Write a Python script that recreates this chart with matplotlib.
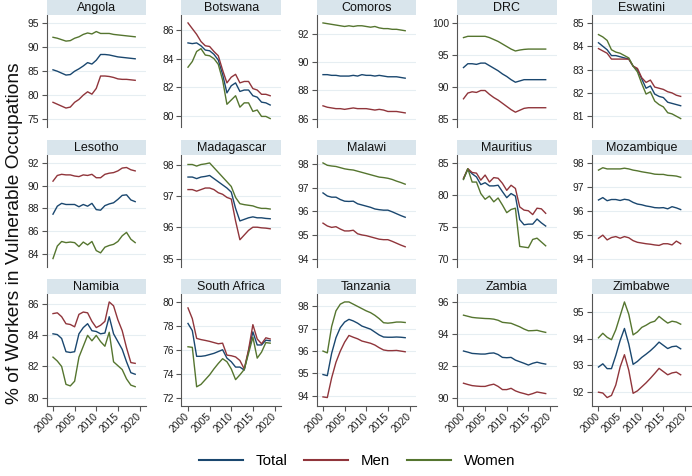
import matplotlib
matplotlib.use("Agg")
import matplotlib.pyplot as plt
from matplotlib.lines import Line2D

plt.rcParams['font.family'] = ['Liberation Sans', 'DejaVu Sans']

YEARS = list(range(2000, 2020))
COUNTRIES = ["Angola", "Botswana", "Comoros", "DRC", "Eswatini",
             "Lesotho", "Madagascar", "Malawi", "Mauritius", "Mozambique",
             "Namibia", "South Africa", "Tanzania", "Zambia", "Zimbabwe"]
SERIES = ["Total", "Men", "Women"]
X_TICKS = [2000, 2005, 2010, 2015, 2020]

ANGOLA_TOTAL = [85.2, 84.9, 84.5, 84.1, 84.2, 84.9, 85.4, 86.0, 86.7, 86.4, 87.2, 88.4, 88.4, 88.3, 88.1, 87.9, 87.8, 87.7, 87.6, 87.5]
ANGOLA_MEN = [78.4, 78.0, 77.6, 77.2, 77.4, 78.4, 79.0, 79.9, 80.6, 80.1, 81.3, 83.9, 83.9, 83.8, 83.6, 83.3, 83.2, 83.2, 83.1, 83.0]
ANGOLA_WOMEN = [92.0, 91.8, 91.5, 91.2, 91.3, 91.8, 92.1, 92.6, 92.9, 92.7, 93.2, 92.8, 92.8, 92.8, 92.6, 92.5, 92.4, 92.3, 92.2, 92.1]

BOTSWANA_TOTAL = [85.1, 85.05, 85.1, 84.9, 84.6, 84.55, 84.3, 83.9, 82.9, 81.6, 82.1, 82.3, 81.7, 81.8, 81.8, 81.4, 81.3, 80.95, 80.9, 80.75]
BOTSWANA_MEN = [86.5, 86.1, 85.7, 85.2, 84.9, 84.85, 84.5, 84.2, 83.2, 82.3, 82.7, 82.9, 82.3, 82.4, 82.4, 81.9, 81.8, 81.5, 81.5, 81.4]
BOTSWANA_WOMEN = [83.4, 83.8, 84.5, 84.7, 84.25, 84.2, 84.0, 83.6, 82.5, 80.8, 81.1, 81.4, 80.6, 80.9, 80.9, 80.3, 80.4, 79.95, 79.95, 79.8]

COMOROS_TOTAL = [89.1, 89.1, 89.05, 89.05, 89.0, 89.0, 89.0, 89.05, 89.0, 89.1, 89.05, 89.05, 89.0, 89.05, 89.0, 88.95, 88.95, 88.95, 88.9, 88.85]
COMOROS_MEN = [86.9, 86.8, 86.75, 86.7, 86.7, 86.65, 86.7, 86.75, 86.7, 86.7, 86.7, 86.65, 86.6, 86.65, 86.6, 86.5, 86.5, 86.5, 86.45, 86.4]
COMOROS_WOMEN = [92.75, 92.7, 92.65, 92.6, 92.55, 92.5, 92.55, 92.5, 92.55, 92.55, 92.5, 92.45, 92.5, 92.4, 92.35, 92.35, 92.3, 92.3, 92.25, 92.2]

DRC_TOTAL = [93.0, 93.6, 93.6, 93.5, 93.7, 93.7, 93.3, 92.9, 92.5, 92.0, 91.6, 91.1, 90.7, 90.9, 91.1, 91.1, 91.1, 91.1, 91.1, 91.1]
DRC_MEN = [88.1, 89.0, 89.2, 89.1, 89.4, 89.4, 88.8, 88.3, 87.9, 87.4, 86.9, 86.4, 86.0, 86.3, 86.6, 86.7, 86.7, 86.7, 86.7, 86.7]
DRC_WOMEN = [97.7, 97.9, 97.9, 97.9, 97.9, 97.9, 97.7, 97.4, 97.1, 96.7, 96.3, 95.9, 95.6, 95.75, 95.85, 95.9, 95.9, 95.9, 95.9, 95.9]

ESWATINI_TOTAL = [84.15, 84.0, 83.85, 83.6, 83.6, 83.55, 83.5, 83.45, 83.15, 83.0, 82.6, 82.2, 82.3, 81.95, 81.85, 81.8, 81.6, 81.55, 81.5, 81.45]
ESWATINI_MEN = [83.9, 83.8, 83.7, 83.45, 83.45, 83.45, 83.45, 83.45, 83.15, 83.05, 82.65, 82.45, 82.55, 82.25, 82.2, 82.15, 82.05, 82.0, 81.9, 81.85]
ESWATINI_WOMEN = [84.5, 84.4, 84.25, 83.85, 83.75, 83.7, 83.6, 83.5, 83.15, 82.9, 82.4, 81.95, 82.05, 81.65, 81.5, 81.4, 81.15, 81.1, 81.0, 80.9]

LESOTHO_TOTAL = [87.5, 88.2, 88.45, 88.35, 88.35, 88.35, 88.15, 88.35, 88.2, 88.45, 87.9, 87.85, 88.25, 88.4, 88.5, 88.8, 89.15, 89.2, 88.75, 88.6]
LESOTHO_MEN = [90.4, 90.9, 91.0, 90.95, 90.95, 90.85, 90.8, 90.95, 90.9, 91.0, 90.7, 90.7, 91.0, 91.1, 91.15, 91.3, 91.55, 91.6, 91.4, 91.3]
LESOTHO_WOMEN = [83.6, 84.7, 85.1, 85.0, 85.05, 85.0, 84.65, 85.05, 84.8, 85.1, 84.3, 84.1, 84.6, 84.75, 84.85, 85.1, 85.6, 85.9, 85.3, 85.0]

MADAGASCAR_TOTAL = [97.6, 97.6, 97.55, 97.6, 97.62, 97.65, 97.55, 97.45, 97.35, 97.25, 97.12, 96.6, 96.2, 96.25, 96.3, 96.33, 96.3, 96.3, 96.28, 96.27]
MADAGASCAR_MEN = [97.2, 97.2, 97.15, 97.2, 97.25, 97.25, 97.2, 97.1, 97.05, 96.95, 96.9, 96.2, 95.6, 95.75, 95.9, 96.0, 96.0, 95.98, 95.97, 95.95]
MADAGASCAR_WOMEN = [98.0, 98.0, 97.95, 98.0, 98.02, 98.05, 97.9, 97.75, 97.6, 97.45, 97.3, 96.95, 96.75, 96.72, 96.7, 96.68, 96.63, 96.6, 96.6, 96.58]

MALAWI_TOTAL = [96.78, 96.65, 96.6, 96.6, 96.5, 96.43, 96.42, 96.43, 96.32, 96.27, 96.22, 96.17, 96.1, 96.07, 96.05, 96.05, 95.98, 95.9, 95.82, 95.75]
MALAWI_MEN = [95.5, 95.38, 95.32, 95.35, 95.25, 95.17, 95.17, 95.2, 95.05, 95.0, 94.97, 94.92, 94.87, 94.82, 94.8, 94.8, 94.73, 94.65, 94.57, 94.5]
MALAWI_WOMEN = [98.05, 97.95, 97.92, 97.9, 97.85, 97.8, 97.77, 97.75, 97.7, 97.65, 97.6, 97.55, 97.5, 97.45, 97.43, 97.4, 97.35, 97.28, 97.22, 97.15]

MAURITIUS_TOTAL = [82.5, 84.0, 83.3, 82.8, 81.6, 81.9, 81.4, 81.4, 81.5, 80.5, 79.55, 80.2, 79.8, 76.1, 75.3, 75.4, 75.4, 76.2, 75.6, 75.1]
MAURITIUS_MEN = [82.6, 84.1, 83.5, 83.4, 82.3, 83.1, 82.0, 82.7, 82.6, 81.8, 80.7, 81.5, 81.0, 78.1, 77.6, 77.5, 76.9, 77.9, 77.8, 77.1]
MAURITIUS_WOMEN = [82.4, 84.1, 82.0, 82.0, 80.2, 79.3, 79.8, 78.9, 79.5, 78.4, 77.2, 77.7, 77.9, 71.9, 71.8, 71.7, 73.0, 73.2, 72.6, 72.0]

MOZAMBIQUE_TOTAL = [96.45, 96.55, 96.42, 96.47, 96.47, 96.43, 96.48, 96.45, 96.35, 96.28, 96.25, 96.2, 96.17, 96.13, 96.12, 96.13, 96.08, 96.17, 96.12, 96.05]
MOZAMBIQUE_MEN = [94.85, 94.98, 94.78, 94.88, 94.92, 94.85, 94.92, 94.87, 94.75, 94.68, 94.65, 94.62, 94.6, 94.57, 94.55, 94.62, 94.62, 94.57, 94.73, 94.62]
MOZAMBIQUE_WOMEN = [97.7, 97.8, 97.75, 97.75, 97.75, 97.75, 97.78, 97.75, 97.7, 97.67, 97.63, 97.6, 97.57, 97.53, 97.52, 97.52, 97.48, 97.47, 97.45, 97.4]

NAMIBIA_TOTAL = [84.1, 84.05, 83.8, 82.95, 82.9, 82.95, 84.1, 84.5, 84.75, 84.3, 84.25, 84.1, 84.15, 85.2, 84.1, 83.6, 83.1, 82.3, 81.6, 81.5]
NAMIBIA_MEN = [85.4, 85.45, 85.2, 84.75, 84.7, 84.55, 85.35, 85.5, 85.45, 84.9, 84.5, 84.65, 84.9, 86.15, 85.9, 85.0, 84.3, 83.2, 82.25, 82.2]
NAMIBIA_WOMEN = [82.6, 82.35, 82.0, 80.85, 80.75, 81.05, 82.6, 83.3, 84.0, 83.65, 84.0, 83.6, 83.3, 84.2, 82.3, 82.05, 81.8, 81.2, 80.8, 80.7]

SOUTH_AFRICA_TOTAL = [78.2, 77.6, 75.45, 75.45, 75.5, 75.6, 75.7, 75.85, 76.0, 75.3, 75.0, 74.55, 74.55, 74.3, 75.9, 77.5, 76.4, 76.4, 76.8, 76.75]
SOUTH_AFRICA_MEN = [79.5, 78.6, 76.95, 76.85, 76.78, 76.7, 76.6, 76.5, 76.55, 75.55, 75.5, 75.4, 75.1, 74.4, 76.0, 78.1, 76.9, 76.5, 77.0, 76.9]
SOUTH_AFRICA_WOMEN = [76.25, 76.2, 72.9, 73.1, 73.5, 73.9, 74.4, 74.85, 75.25, 75.0, 74.4, 73.5, 73.9, 74.35, 75.7, 77.05, 75.3, 75.8, 76.6, 76.55]

TANZANIA_TOTAL = [94.95, 94.9, 95.9, 96.6, 97.05, 97.3, 97.42, 97.35, 97.25, 97.12, 97.05, 96.98, 96.85, 96.72, 96.63, 96.62, 96.62, 96.63, 96.62, 96.6]
TANZANIA_MEN = [93.95, 93.92, 94.8, 95.5, 96.0, 96.4, 96.7, 96.62, 96.55, 96.45, 96.4, 96.35, 96.27, 96.15, 96.05, 96.02, 96.02, 96.03, 96.0, 95.97]
TANZANIA_WOMEN = [96.0, 95.92, 97.1, 97.8, 98.1, 98.2, 98.2, 98.1, 98.0, 97.9, 97.8, 97.72, 97.6, 97.45, 97.27, 97.25, 97.27, 97.3, 97.3, 97.28]

ZAMBIA_TOTAL = [92.92, 92.85, 92.77, 92.75, 92.73, 92.73, 92.78, 92.8, 92.7, 92.52, 92.5, 92.52, 92.35, 92.25, 92.15, 92.04, 92.15, 92.22, 92.15, 92.1]
ZAMBIA_MEN = [90.9, 90.82, 90.75, 90.72, 90.7, 90.7, 90.78, 90.84, 90.7, 90.5, 90.5, 90.58, 90.42, 90.32, 90.25, 90.17, 90.25, 90.35, 90.3, 90.25]
ZAMBIA_WOMEN = [95.17, 95.1, 95.03, 95.0, 94.98, 94.96, 94.95, 94.92, 94.85, 94.72, 94.69, 94.66, 94.55, 94.44, 94.3, 94.19, 94.2, 94.22, 94.15, 94.09]

ZIMBABWE_TOTAL = [92.94, 93.06, 92.88, 92.88, 93.37, 93.93, 94.38, 93.8, 93.04, 93.15, 93.3, 93.42, 93.55, 93.7, 93.87, 93.75, 93.63, 93.7, 93.72, 93.62]
ZIMBABWE_MEN = [92.0, 91.97, 91.8, 91.88, 92.27, 92.94, 93.4, 92.82, 91.96, 92.05, 92.2, 92.35, 92.52, 92.7, 92.89, 92.77, 92.65, 92.72, 92.75, 92.65]
ZIMBABWE_WOMEN = [94.03, 94.2, 94.05, 93.96, 94.33, 94.85, 95.37, 94.91, 94.14, 94.25, 94.42, 94.5, 94.6, 94.65, 94.83, 94.7, 94.58, 94.65, 94.62, 94.54]

Y_TICKS = {
    "Angola": [75, 80, 85, 90, 95],
    "Botswana": [80, 82, 84, 86],
    "Comoros": [86, 88, 90, 92],
    "DRC": [85, 90, 95, 100],
    "Eswatini": [81, 82, 83, 84, 85],
    "Lesotho": [84, 86, 88, 90, 92],
    "Madagascar": [95, 96, 97, 98],
    "Malawi": [94, 95, 96, 97, 98],
    "Mauritius": [70, 75, 80, 85],
    "Mozambique": [94, 95, 96, 97, 98],
    "Namibia": [80, 82, 84, 86],
    "South Africa": [72, 74, 76, 78, 80],
    "Tanzania": [94, 95, 96, 97, 98],
    "Zambia": [90, 92, 94, 96],
    "Zimbabwe": [92, 93, 94, 95],
}

DATA = {
    "Angola": (ANGOLA_TOTAL, ANGOLA_MEN, ANGOLA_WOMEN),
    "Botswana": (BOTSWANA_TOTAL, BOTSWANA_MEN, BOTSWANA_WOMEN),
    "Comoros": (COMOROS_TOTAL, COMOROS_MEN, COMOROS_WOMEN),
    "DRC": (DRC_TOTAL, DRC_MEN, DRC_WOMEN),
    "Eswatini": (ESWATINI_TOTAL, ESWATINI_MEN, ESWATINI_WOMEN),
    "Lesotho": (LESOTHO_TOTAL, LESOTHO_MEN, LESOTHO_WOMEN),
    "Madagascar": (MADAGASCAR_TOTAL, MADAGASCAR_MEN, MADAGASCAR_WOMEN),
    "Malawi": (MALAWI_TOTAL, MALAWI_MEN, MALAWI_WOMEN),
    "Mauritius": (MAURITIUS_TOTAL, MAURITIUS_MEN, MAURITIUS_WOMEN),
    "Mozambique": (MOZAMBIQUE_TOTAL, MOZAMBIQUE_MEN, MOZAMBIQUE_WOMEN),
    "Namibia": (NAMIBIA_TOTAL, NAMIBIA_MEN, NAMIBIA_WOMEN),
    "South Africa": (SOUTH_AFRICA_TOTAL, SOUTH_AFRICA_MEN, SOUTH_AFRICA_WOMEN),
    "Tanzania": (TANZANIA_TOTAL, TANZANIA_MEN, TANZANIA_WOMEN),
    "Zambia": (ZAMBIA_TOTAL, ZAMBIA_MEN, ZAMBIA_WOMEN),
    "Zimbabwe": (ZIMBABWE_TOTAL, ZIMBABWE_MEN, ZIMBABWE_WOMEN),
}

COLORS = ["#1a476f", "#90353b", "#55752f"]
STRIP = "#d9e5ec"
GRID = "#e6eef2"
AXC = "#555555"

W, H = 692, 476
fig = plt.figure(figsize=(W / 100, H / 100), dpi=100)
fig.patch.set_facecolor("white")

col_left = [46.5, 181.5, 316.5, 457, 592]
row_top = [15, 155, 294]
ax_w, ax_h, strip_h = 99.5, 111.5, 15

for i, name in enumerate(COUNTRIES):
    r, c = divmod(i, 5)
    L = col_left[c]
    T = row_top[r]
    ax = fig.add_axes([L / W, 1 - (T + ax_h) / H, ax_w / W, ax_h / H])
    sax = fig.add_axes([L / W, 1 - T / H, ax_w / W, strip_h / H])
    sax.set_facecolor(STRIP)
    sax.set_xticks([]); sax.set_yticks([])
    for s in sax.spines.values():
        s.set_visible(False)
    sax.text(0.5, 0.48, name, ha="center", va="center", fontsize=9, color="#111111",
             transform=sax.transAxes)

    vals = DATA[name]
    for v, col in zip(vals, COLORS):
        ax.plot(YEARS, v, color=col, lw=1.0)

    ticks = Y_TICKS[name]
    allv = [x for v in vals for x in v]
    lo = min(min(allv), ticks[0]); hi = max(max(allv), ticks[-1])
    pad = (hi - lo) * 0.083
    ax.set_ylim(lo - pad, hi + pad)
    ax.set_xlim(1998.5, 2021.5)
    ax.set_yticks(ticks)
    ax.set_yticklabels([str(t) for t in ticks])
    ax.grid(axis="y", color=GRID, lw=0.8)
    ax.set_axisbelow(True)
    for s in ["top", "right"]:
        ax.spines[s].set_visible(False)
    ax.spines["left"].set_color(AXC)
    ax.spines["left"].set_linewidth(0.8)
    ax.tick_params(axis="y", length=3.5, width=0.8, color=AXC, labelsize=7.4, labelcolor="#222222", pad=2)
    if r == 2:
        ax.spines["bottom"].set_color(AXC)
        ax.spines["bottom"].set_linewidth(0.8)
        ax.set_xticks(X_TICKS)
        ax.set_xticklabels([str(t) for t in X_TICKS], rotation=45, ha="right", va="center",
                           rotation_mode="anchor")
        ax.tick_params(axis="x", length=3.5, width=0.8, color=AXC, labelsize=7.4, labelcolor="#222222", pad=3)
    else:
        ax.spines["bottom"].set_visible(False)
        ax.set_xticks([])

fig.text(15 / W, 1 - 233 / H, "% of Workers in Vulnerable Occupations", rotation=90,
         ha="center", va="center", fontsize=13.8, color="#111111")

handles = [Line2D([0], [0], color=c, lw=1.5) for c in COLORS]
fig.legend(handles, SERIES, loc="center", bbox_to_anchor=(357 / W, 1 - 461 / H), ncol=3,
           frameon=False, fontsize=10.8, handlelength=2.9, handletextpad=0.85, columnspacing=1.15)

fig.savefig("out.png", dpi=100, facecolor="white")
